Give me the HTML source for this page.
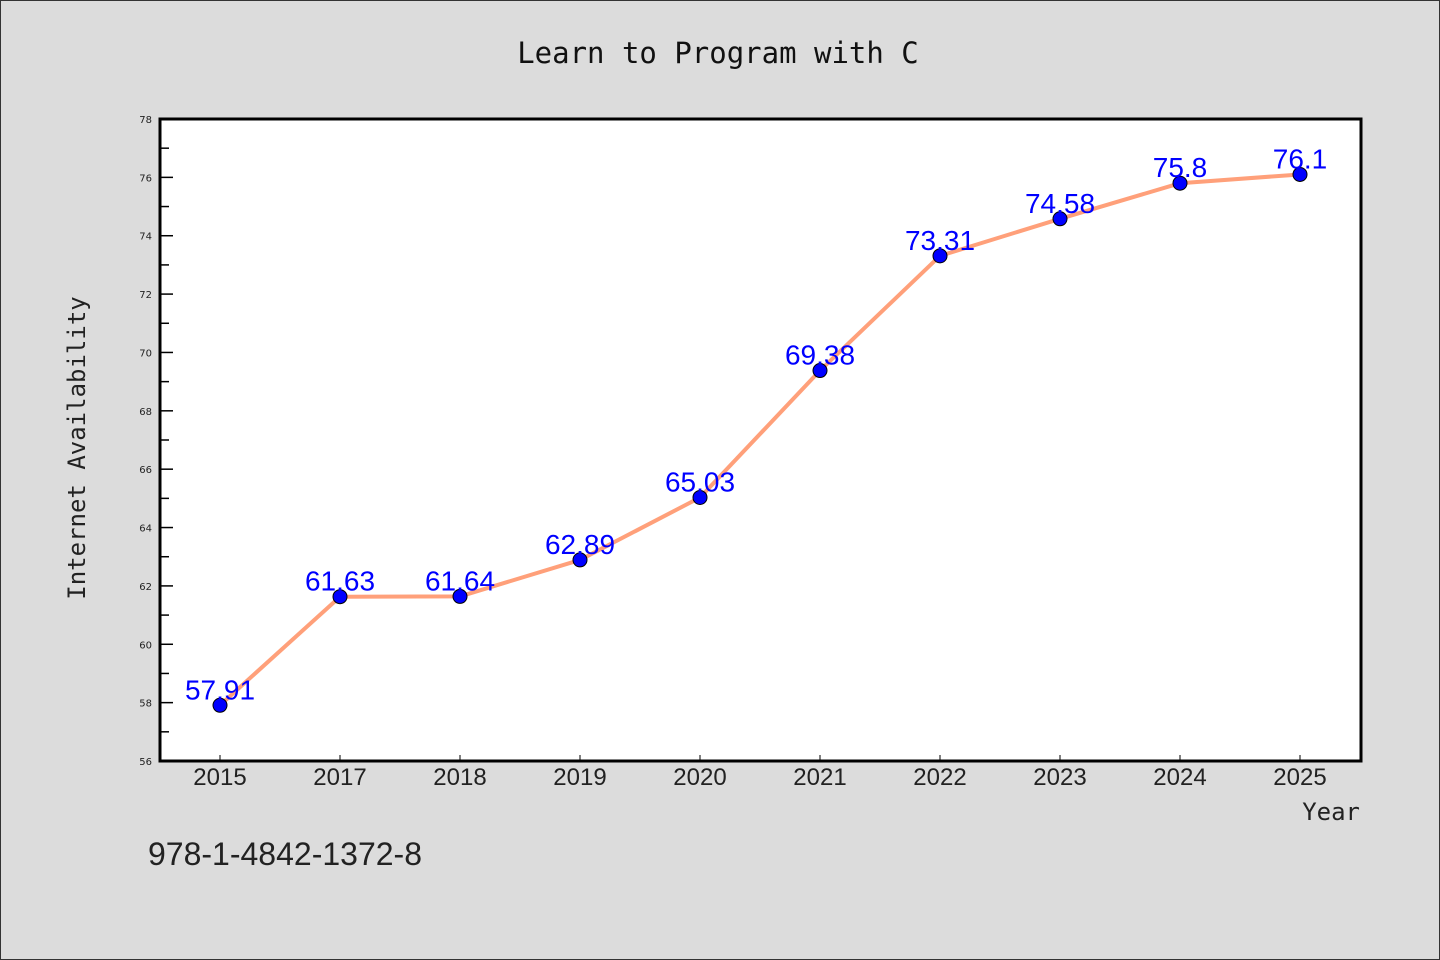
<!DOCTYPE html>
<html><head><meta charset="utf-8"><style>
html,body{margin:0;padding:0;background:#dcdcdc;}
svg{display:block;}
</style></head><body>
<svg id="chart" width="1440" height="960" xmlns="http://www.w3.org/2000/svg">
<rect x="0.5" y="0.5" width="1439" height="959" fill="#dcdcdc" stroke="#333" stroke-width="1"/>
<text x="718" y="63" text-anchor="middle" font-family="'WenQuanYi Zen Hei Mono','DejaVu Sans Mono','Liberation Mono',monospace" font-size="29" fill="#111">Learn to Program with C</text>
<rect x="160" y="119" width="1201" height="642" fill="#fff"/>
<g id="yaxis"></g>
<g id="xaxis"></g>
<g id="series"></g>
<rect x="160" y="119" width="1201" height="642" fill="none" stroke="#000" stroke-width="3"/>
<text transform="translate(85,448) rotate(-90)" text-anchor="middle" font-family="'WenQuanYi Zen Hei Mono','DejaVu Sans Mono',monospace" font-size="24" fill="#222">Internet Availability</text>
<text x="1360" y="820" text-anchor="end" font-family="'WenQuanYi Zen Hei Mono','DejaVu Sans Mono',monospace" font-size="24" fill="#222">Year</text>
<text x="148" y="865" font-family="'WenQuanYi Zen Hei','Liberation Sans',sans-serif" font-size="32" fill="#222">978-1-4842-1372-8</text>
</svg>
<script>
const categories=["2015","2017","2018","2019","2020","2021","2022","2023","2024","2025"];
const values=[57.91,61.63,61.64,62.89,65.03,69.38,73.31,74.58,75.8,76.1];
const valueLabels=["57.91","61.63","61.64","62.89","65.03","69.38","73.31","74.58","75.8","76.1"];
const yTicks=[56,58,60,62,64,66,68,70,72,74,76,78];
const yMin=56,yMax=78;
const NS="http://www.w3.org/2000/svg";
const L=160,R=1360,T=119,B=761;
function y(v){return B-(v-yMin)/(yMax-yMin)*(B-T);}
function x(i){return L+(i+0.5)*(R-L)/categories.length;}
function mk(tag,attrs,parent){const e=document.createElementNS(NS,tag);for(const k in attrs)e.setAttribute(k,attrs[k]);parent.appendChild(e);return e;}
const ya=document.getElementById('yaxis'),xa=document.getElementById('xaxis'),se=document.getElementById('series');
yTicks.forEach((t,i)=>{
  const ln=mk('line',{x1:L,x2:L+13,y1:y(t),y2:y(t),stroke:'#000','stroke-width':1.5},ya);
  
  
  if(i<yTicks.length-1){
    const m=mk('line',{x1:L,x2:L+9,y1:y(t+1),y2:y(t+1),stroke:'#000','stroke-width':1.5},ya);
    
    
  }
  const tx=mk('text',{x:152,y:y(t)+4,'text-anchor':'end','font-family':"'DejaVu Sans',sans-serif",'font-size':10,fill:'#222'},ya);
  tx.textContent=t;
  
  
});
categories.forEach((c,i)=>{
  const ln=mk('line',{x1:x(i),x2:x(i),y1:B,y2:B-6,stroke:'#000','stroke-width':1},xa);
  
  
  const tx=mk('text',{x:x(i),y:785,'text-anchor':'middle','font-family':"'WenQuanYi Zen Hei','Liberation Sans',sans-serif",'font-size':24,fill:'#222'},xa);
  tx.textContent=c;
  
  
});
const pts=values.map((v,i)=>x(i)+','+y(v)).join(' ');
const pl=mk('polyline',{points:pts,fill:'none',stroke:'#ffa07a','stroke-width':4,'stroke-linejoin':'round'},se);


values.forEach((v,i)=>{
  const c=mk('circle',{cx:x(i),cy:y(v),r:7,fill:'#0000ff',stroke:'#000','stroke-width':1},se);
  
  
});
values.forEach((v,i)=>{
  const t=mk('text',{x:x(i),y:y(v)+5-11,'text-anchor':'middle','font-family':"'Liberation Sans',sans-serif",'font-size':28,fill:'#0000ff'},se);
  t.textContent=valueLabels[i];
  
  
});
</script>
</body></html>
